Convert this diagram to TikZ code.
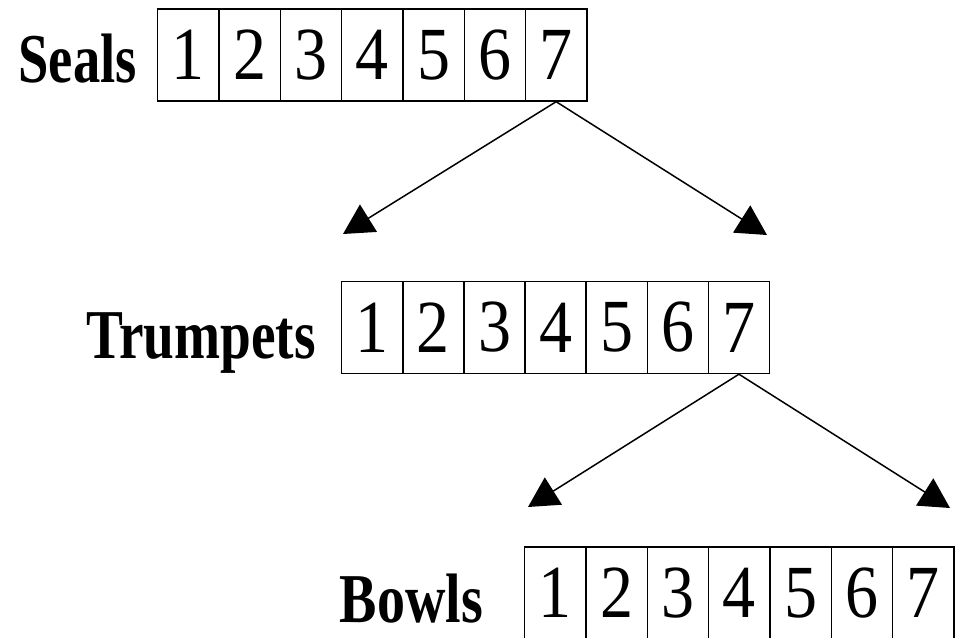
\documentclass[tikz,border=0pt]{standalone}
\usepackage{fontspec}
\setmainfont{Liberation Serif}
\usetikzlibrary{arrows.meta}
\begin{document}
\begin{tikzpicture}[x=1pt,y=-1pt,
  cell/.style={draw=black, line width=1.4pt, minimum width=61.3pt, minimum height=92pt, inner sep=0pt, anchor=west, font=\fontsize{75}{75}\selectfont},
  rowlabel/.style={anchor=base east, inner sep=0pt, font=\fontsize{70}{70}\selectfont\bfseries},
  conn/.style={line width=1.5pt, -{Triangle[length=30pt,width=32pt]}}]
\useasboundingbox[fill=white] (0,0) rectangle (960,637);
\foreach \i in {1,...,7} {
  \node[cell] (s\i) at ({157+61.3*(\i-1)},55) {\scalebox{0.88}[1]{\i}};
  \node[cell] (t\i) at ({341+61.1*(\i-1)},327.5) {\scalebox{0.88}[1]{\i}};
  \node[cell] (b\i) at ({524+61.3*(\i-1)},593) {\scalebox{0.88}[1]{\i}};
}
\node[rowlabel] (ls) at (137,82) {\scalebox{0.78}[1]{Seals}};
\node[rowlabel] (lt) at (316,358) {\scalebox{0.79}[1]{Trumpets}};
\node[rowlabel] (lb) at (483,622) {\scalebox{0.8}[1]{Bowls}};
\coordinate (sl) at (343,234);
\coordinate (sr) at (767,235);
\coordinate (tl) at (528,507);
\coordinate (tr) at (950,508);
\draw[conn] (s7.south) -- (sl);
\draw[conn] (s7.south) -- (sr);
\draw[conn] (t7.south) -- (tl);
\draw[conn] (t7.south) -- (tr);
\end{tikzpicture}
\end{document}
